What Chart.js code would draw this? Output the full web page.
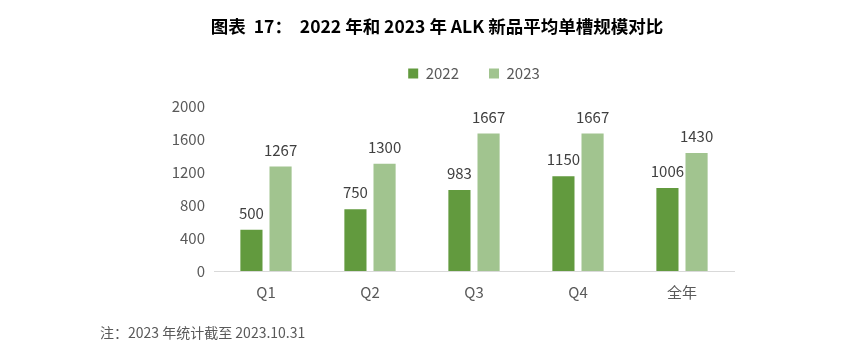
<!DOCTYPE html>
<html>
<head>
<meta charset="utf-8">
<script src="https://cdn.jsdelivr.net/npm/chart.js@4"></script>
<style>
  html, body { margin: 0; padding: 0; background: #fff; }
  #wrap { position: relative; width: 850px; height: 362px; }
  #titulo { position: absolute; left: 0; width: 874px; top: 13px; text-align: center; font: bold 17.5px "Noto Sans CJK SC", sans-serif; color: #000; white-space: pre; }
  #note { position: absolute; left: 100px; top: 322px; font: 14px "Noto Sans CJK SC", sans-serif; color: #595959; }
</style>
</head>
<body>
<div id="wrap">
  <canvas id="chart" width="850" height="362"></canvas>
  <div id="titulo">图表  17：  2022 年和 2023 年 ALK 新品平均单槽规模对比</div>
  <div id="note">注：2023 年统计截至 2023.10.31</div>
</div>
<script>
const categorias = ['Q1', 'Q2', 'Q3', 'Q4', '全年']
const valores2022 = [500, 750, 983, 1150, 1006]
const valores2023 = [1267, 1300, 1667, 1667, 1430]
const ticksY = [0, 400, 800, 1200, 1600, 2000]

const fonte = '"Noto Sans CJK SC", sans-serif'

// rótulos em cima das barras
const rotulos = {
    id: 'rotulos',
    afterDatasetsDraw(chart) {
        const ctx = chart.ctx
        ctx.save()
        ctx.font = '15px ' + fonte
        ctx.fillStyle = '#404040'
        ctx.textAlign = 'center'
        ctx.textBaseline = 'bottom'
        chart.data.datasets.forEach((ds, i) => {
            chart.getDatasetMeta(i).data.forEach((bar, j) => {
                ctx.fillText(ds.data[j], bar.x, bar.y - 9)
            })
        })
        ctx.restore()
    }
}

// espaço extra abaixo da legenda
const margemLegenda = {
    id: 'margemLegenda',
    beforeInit(chart) {
        const fit = chart.legend.fit
        chart.legend.fit = function () {
            fit.bind(chart.legend)()
            this.height += 15
        }
    }
}

new Chart(document.getElementById('chart'), {
    type: 'bar',
    data: {
        labels: categorias,
        datasets: [
            { label: '2022', data: valores2022, backgroundColor: '#629a3e' },
            { label: '2023', data: valores2023, backgroundColor: '#a1c48f' }
        ]
    },
    options: {
        responsive: false,
        animation: false,
        layout: { padding: { left: 150, right: 116, top: 36, bottom: 49 } },
        datasets: { bar: { barPercentage: 0.76, categoryPercentage: 0.56 } },
        plugins: {
            legend: {
                fullSize: false,
                labels: {
                    boxWidth: 10,
                    boxHeight: 10,
                    padding: 30,
                    color: '#595959',
                    font: { family: fonte, size: 15 }
                }
            },
            tooltip: { enabled: false }
        },
        scales: {
            x: {
                grid: { display: false, drawTicks: false },
                border: { color: '#d9d9d9' },
                ticks: { color: '#595959', font: { family: fonte, size: 15 }, padding: 12 }
            },
            y: {
                min: 0,
                max: 2000,
                afterFit: s => { s.width = 64 },
                afterBuildTicks: s => { s.ticks = ticksY.map(v => ({ value: v })) },
                grid: { display: false, drawTicks: false },
                border: { display: false },
                ticks: { color: '#595959', font: { family: fonte, size: 15 }, padding: 9, callback: v => v }
            }
        }
    },
    plugins: [rotulos, margemLegenda]
})
</script>
</body>
</html>
